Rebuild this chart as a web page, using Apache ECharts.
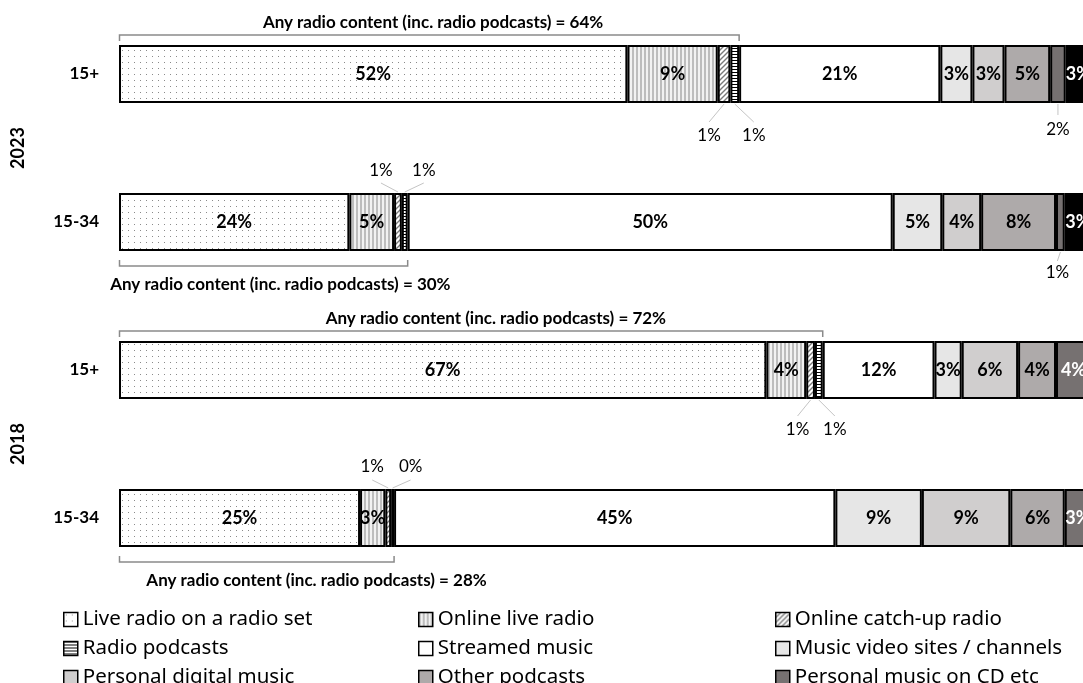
<!DOCTYPE html>
<html>
<head>
<meta charset="utf-8">
<script src="https://cdn.jsdelivr.net/npm/echarts@6/dist/echarts.min.js"></script>
<style>
  html, body { margin: 0; padding: 0; background: #ffffff; }
  #chart { width: 1083px; height: 683px; }
</style>
</head>
<body>
<div id="chart"></div>
<script>
// Share of audio listening time by source, per age group and year (%)
const groups = ['15+', '15-34', '15+', '15-34'];
const years = ['2023', '2018'];

const liveRadioSet    = [52.3, 23.7, 66.6, 24.8];
const onlineLiveRadio = [9.3, 4.6, 4.1, 2.6];
const onlineCatchUp   = [1.3, 0.8, 0.9, 0.6];
const radioPodcasts   = [0.9, 0.6, 0.8, 0.3];
const streamedMusic   = [20.7, 49.9, 11.5, 45.4];
const musicVideo      = [3.3, 5.1, 2.8, 8.9];
const personalDigital = [3.3, 4.0, 5.8, 9.1];
const otherPodcasts   = [4.7, 7.7, 3.9, 5.6];
const personalCD      = [1.6, 0.9, 3.6, 2.7];
const otherAudio      = [2.6, 2.7, null, null];

const seriesNames = [
  'Live radio on a radio set', 'Online live radio', 'Online catch-up radio',
  'Radio podcasts', 'Streamed music', 'Music video sites / channels',
  'Personal digital music', 'Other podcasts', 'Personal music on CD etc', 'Other audio'
];
const seriesValues = [
  liveRadioSet, onlineLiveRadio, onlineCatchUp, radioPodcasts, streamedMusic,
  musicVideo, personalDigital, otherPodcasts, personalCD, otherAudio
];
// the first four sources make up "any radio content"
const radioSeriesCount = 4;

// ---- layout ----
const BAR_W = 58;
const LABEL_FONT = 'Lato, "Noto Sans", sans-serif';
// bracket placement per row: side of the bar and horizontal nudge of its caption
const bracketSide = ['above', 'below', 'above', 'below'];
const bracketTextShift = [4, 17, 25, 60];
// small segments labelled outside the bar: [row, series, side, dx, lineLen, labelDist]
const callouts = [
  [0, 2, 'below', -15, 18, 14], [0, 3, 'below', 19, 18, 14], [0, 8, 'below', 0, 11, 15],
  [1, 2, 'above', -17, 9, 12], [1, 3, 'above', 19, 9, 12], [1, 8, 'below', -3, 9, 12],
  [2, 2, 'below', -13, 16, 14], [2, 3, 'below', 16, 16, 14],
  [3, 2, 'above', -16, 8, 13], [3, 3, 'above', 18, 8, 13]
];
const calloutKeys = new Set(callouts.map(c => c[0] + '-' + c[1]));

// ---- fill patterns ----
function tile(w, h, draw) {
  const c = document.createElement('canvas');
  c.width = w; c.height = h;
  const ctx = c.getContext('2d');
  draw(ctx, w, h);
  return { image: c, repeat: 'repeat' };
}
const dots = tile(6, 6, (ctx) => {
  ctx.fillStyle = '#ffffff'; ctx.fillRect(0, 0, 6, 6);
  ctx.fillStyle = '#8a8a8a'; ctx.fillRect(2, 2, 1, 1);
});
const verticalStripes = tile(4, 4, (ctx) => {
  ctx.fillStyle = '#f2f2f2'; ctx.fillRect(0, 0, 4, 4);
  ctx.fillStyle = '#bdbdbd'; ctx.fillRect(0, 0, 2, 4);
});
const diagonalHatch = tile(5, 5, (ctx) => {
  ctx.fillStyle = '#ffffff'; ctx.fillRect(0, 0, 5, 5);
  ctx.strokeStyle = '#7a7a7a'; ctx.lineWidth = 1.4;
  ctx.beginPath();
  ctx.moveTo(-1, 6); ctx.lineTo(6, -1);
  ctx.moveTo(-1, 1); ctx.lineTo(1, -1);
  ctx.moveTo(4, 6); ctx.lineTo(6, 4);
  ctx.stroke();
});
const horizontalLines = tile(3, 3, (ctx) => {
  ctx.fillStyle = '#ffffff'; ctx.fillRect(0, 0, 3, 3);
  ctx.fillStyle = '#000000'; ctx.fillRect(0, 0, 3, 1);
});

const fills = [dots, verticalStripes, diagonalHatch, horizontalLines,
  '#ffffff', '#e6e6e6', '#d0cece', '#aeaaaa', '#767171', '#000000'];
const labelColors = ['#000', '#000', '#000', '#000', '#000', '#000', '#000', '#000', '#fff', '#fff'];

const pct = v => Math.round(v) + '%';

const barSeries = seriesNames.map((name, s) => ({
  name,
  type: 'bar',
  stack: 'share',
  barWidth: BAR_W,
  itemStyle: { color: fills[s], borderColor: '#000', borderWidth: 2 },
  label: {
    show: true,
    position: 'inside',
    fontFamily: LABEL_FONT,
    fontWeight: 'bold',
    fontSize: 18,
    color: labelColors[s],
    formatter: p => pct(p.value)
  },
  data: seriesValues[s].map((v, row) => ({
    value: v,
    label: { show: v != null && !calloutKeys.has(row + '-' + s) }
  }))
}));

// running start of each segment along its row
function segmentStart(row, s) {
  let acc = 0;
  for (let k = 0; k < s; k++) acc += seriesValues[k][row] || 0;
  return acc;
}

const radioTotals = groups.map((g, row) => segmentStart(row, radioSeriesCount));

const bracketSeries = {
  type: 'custom',
  name: 'radio-bracket',
  z: 5,
  silent: true,
  encode: { x: 0, y: 1 },
  data: radioTotals.map((t, row) => [t, row]),
  renderItem(params, api) {
    const total = api.value(0);
    const row = api.value(1);
    const a = api.coord([0, row]);
    const b = api.coord([total, row]);
    const sign = bracketSide[row] === 'above' ? -1 : 1;
    const edge = a[1] + sign * (BAR_W / 2 + 1);
    const lineY = edge + sign * (sign < 0 ? 9 : 14);
    const tickY = lineY - sign * 6;
    return {
      type: 'group',
      children: [
        {
          type: 'polyline',
          shape: { points: [[a[0] + 0.5, tickY], [a[0] + 0.5, lineY], [b[0], lineY], [b[0], tickY]] },
          style: { stroke: '#8a8a8a', lineWidth: 1.5, fill: null }
        },
        {
          type: 'text',
          style: {
            text: 'Any radio content (inc. radio podcasts) = ' + pct(total),
            x: (a[0] + b[0]) / 2 + bracketTextShift[row],
            y: edge + sign * (sign < 0 ? 21 : 33),
            align: 'center',
            verticalAlign: 'middle',
            fontFamily: LABEL_FONT,
            fontWeight: 'bold',
            fontSize: 17,
            fill: '#000'
          }
        }
      ]
    };
  }
};

const calloutSeries = {
  type: 'custom',
  name: 'segment-callouts',
  z: 6,
  silent: true,
  encode: { x: 0, y: 1 },
  data: callouts.map((c, i) => {
    const [row, s] = c;
    const v = seriesValues[s][row];
    return [segmentStart(row, s) + v / 2, row, v, i];
  }),
  renderItem(params, api) {
    const mid = api.value(0);
    const row = api.value(1);
    const v = api.value(2);
    const c = callouts[api.value(3)];
    const p = api.coord([mid, row]);
    const sign = c[2] === 'above' ? -1 : 1;
    const edge = p[1] + sign * (BAR_W / 2 + 1);
    const endX = p[0] + c[3];
    const endY = edge + sign * c[4];
    return {
      type: 'group',
      children: [
        {
          type: 'line',
          shape: { x1: p[0], y1: edge, x2: endX, y2: endY },
          style: { stroke: '#c4c4c4', lineWidth: 1 }
        },
        {
          type: 'text',
          style: {
            text: pct(v),
            x: endX,
            y: endY + sign * c[5],
            align: 'center',
            verticalAlign: 'middle',
            fontFamily: LABEL_FONT,
            fontSize: 17,
            fill: '#000'
          }
        }
      ]
    };
  }
};

const legendColumns = [
  [seriesNames[0], seriesNames[3], seriesNames[6]],
  [seriesNames[1], seriesNames[4], seriesNames[7]],
  [seriesNames[2], seriesNames[5], seriesNames[8]]
];
const legendLeft = [63, 418, 775];

const chart = echarts.init(document.getElementById('chart'), null, { renderer: 'canvas' });
chart.setOption({
  animation: false,
  backgroundColor: '#ffffff',
  grid: { left: 119, width: 972, top: 0, height: 592, outerBoundsMode: 'none', containLabel: false },
  xAxis: { type: 'value', min: 0, max: 100, show: false },
  yAxis: [
    {
      type: 'category',
      data: groups,
      inverse: true,
      axisLine: { show: false },
      axisTick: { show: false },
      splitLine: { show: false },
      axisLabel: {
        margin: 20,
        fontFamily: LABEL_FONT,
        fontWeight: 'bold',
        fontSize: 17,
        color: '#000'
      }
    },
    {
      type: 'category',
      data: years,
      inverse: true,
      position: 'left',
      axisLine: { show: false },
      axisTick: { show: false },
      splitLine: { show: false },
      axisLabel: {
        rotate: 90,
        margin: 92,
        fontFamily: LABEL_FONT,
        fontWeight: 'bold',
        fontSize: 18,
        color: '#000'
      }
    }
  ],
  legend: legendColumns.map((col, i) => ({
    orient: 'vertical',
    left: legendLeft[i],
    top: 609,
    width: 320,
    height: 120,
    icon: 'rect',
    itemWidth: 14,
    itemHeight: 14,
    itemGap: 8,
    padding: 0,
    selectedMode: false,
    data: col,
    itemStyle: { borderColor: '#000', borderWidth: 1.5 },
    textStyle: { fontFamily: '"Noto Sans", sans-serif', fontSize: 20.5, lineHeight: 20, color: '#000' }
  })),
  series: [...barSeries, bracketSeries, calloutSeries]
});
</script>
</body>
</html>
